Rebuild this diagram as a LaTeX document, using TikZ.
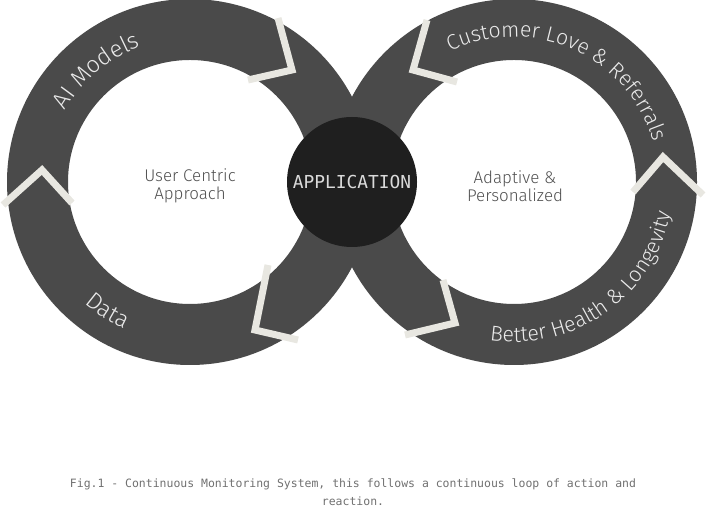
\documentclass[tikz,border=0pt]{standalone}
\usepackage{fontspec}
\newfontfamily\lbl{Fira Sans Light}
\newfontfamily\mono{DejaVu Sans Mono}
\usetikzlibrary{decorations.text}
\definecolor{ringc}{HTML}{4A4A4A}
\definecolor{appc}{HTML}{1F1F1F}
\definecolor{chev}{HTML}{E8E7E1}
\definecolor{lblc}{HTML}{EAEAEA}
\definecolor{appt}{HTML}{DADADA}
\definecolor{midc}{HTML}{505050}
\definecolor{capc}{HTML}{707070}
\begin{document}
\begin{tikzpicture}[x=0.75pt,y=0.75pt,
  ring/.style={fill=ringc,even odd rule},
  chevron/.style={draw=chev,line width=5.25pt,line join=miter,line cap=butt},
  midtext/.style={font=\lbl\fontsize{12.7}{13.5}\selectfont,text=midc,align=center},
  arclabel/.style={decorate,decoration={text along path,text align=center,text={#1}}}]
\useasboundingbox (0,0) rectangle (706,510);
\coordinate (C1) at (190,328);
\coordinate (C2) at (514,328);
% rings
\fill[ring] (C1) circle[radius=183] (C1) circle[radius=122];
\fill[ring] (C2) circle[radius=183] (C2) circle[radius=122];
% chevrons
\draw[chevron] (278,492) -- (292,440) -- (248,430);
\draw[chevron] (3,305) -- (42,340) -- (72,307);
\draw[chevron] (268,245) -- (255,180) -- (298,170);
\draw[chevron] (427,490) -- (413,440) -- (457,428);
\draw[chevron] (633,318) -- (663,353) -- (703,315);
\draw[chevron] (443,230) -- (455,187) -- (405,175);
% application
\node[circle,fill=appc,minimum size=97.5pt,inner sep=0pt,text=appt,font=\mono\fontsize{13.4}{13.4}\selectfont] (app) at (352,328) {APPLICATION};
% arc labels
\path[arclabel={|\lbl\fontsize{17.5}{17.5}\selectfont\color{lblc}|AI Models}]
  (C1) ++(175:144) arc[start angle=175,end angle=85,radius=144];
\path[arclabel={|\lbl\fontsize{17.5}{17.5}\selectfont\color{lblc}|Data}]
  (C1) ++(-150:161) arc[start angle=-150,end angle=-95,radius=161];
\path[arclabel={|\lbl\fontsize{16}{16}\selectfont\color{lblc}|Customer Love {\&} Referrals}]
  (C2) ++(150:145) arc[start angle=150,end angle=-18,radius=145];
\path[arclabel={|\lbl\fontsize{16}{16}\selectfont\color{lblc}|Better Health {\&} Longevity}]
  (C2) ++(-125:160) arc[start angle=-125,end angle=15,radius=160];
% centre texts
\node[midtext] (uc) at (190,324) {User Centric\\Approach};
\node[midtext] (ap) at (515,324) {Adaptive \&\\Personalized};
% caption
\node[font=\mono\fontsize{8.6}{13.5}\selectfont,text=capc,align=center] (cap) at (353,18) {Fig.1 - Continuous Monitoring System, this follows a continuous loop of action and\\reaction.};
\end{tikzpicture}
\end{document}
